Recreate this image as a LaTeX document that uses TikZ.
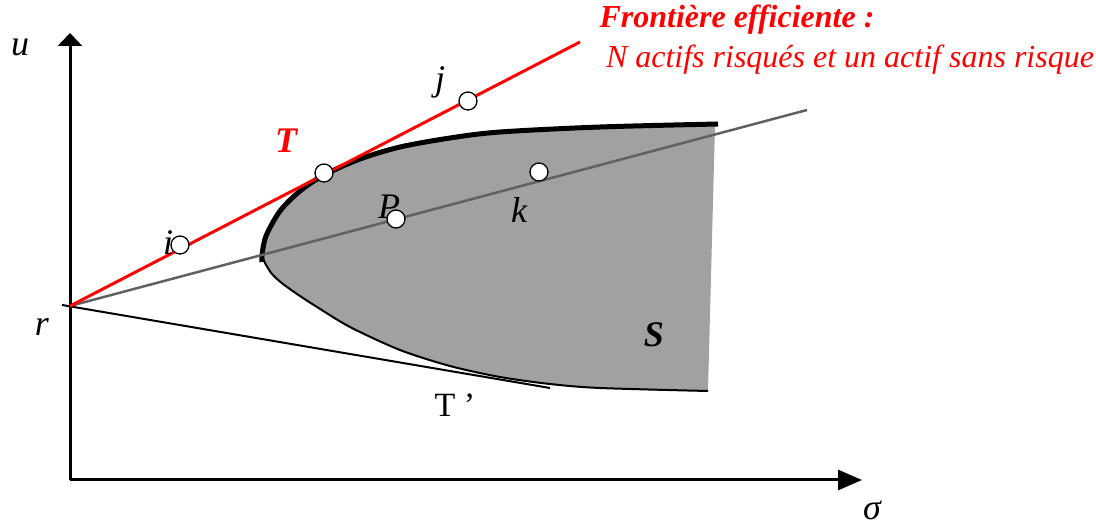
\documentclass[tikz,border=0pt]{standalone}
\usepackage{fontspec}
\setmainfont{Liberation Serif}
\usetikzlibrary{arrows.meta}
\begin{document}
\begin{tikzpicture}[x=1pt,y=-1pt,
  axis/.style={line width=3pt},
  pt/.style={circle,draw=black,fill=white,line width=1.3pt,minimum size=18pt,inner sep=0pt},
  lab/.style={font=\fontsize{36}{40}\selectfont\itshape,inner sep=0pt},
  redline/.style={draw=red,line width=3pt},
  grayline/.style={draw=black!62,line width=2.5pt}]
\useasboundingbox (0,0) rectangle (1096,526);
% coordinates
\coordinate (o) at (70,480);
\coordinate (ytip) at (70,33);
\coordinate (xtip) at (862,480);
\coordinate (r) at (70,306);
\coordinate (rl) at (62,305);
\coordinate (redend) at (580,42);
\coordinate (grayend) at (807,110);
\coordinate (tpend) at (550,388);
% filled region
\fill[black!37] plot[smooth] coordinates {(262,255) (266,236) (280,211) (300,191) (324,175) (360,159) (400,147) (450,138) (500,132) (600,127) (715,125)}
  -- plot[smooth] coordinates {(708,391) (600,388) (550,384) (500,377) (450,366) (400,350) (350,327) (317,307) (300,296) (283,284) (272,274) (265,263) (262,255)} -- cycle;
% lower branch
\draw[line width=2pt] plot[smooth] coordinates {(262,255) (265,263) (272,274) (283,284) (300,296) (317,307) (350,327) (400,350) (450,366) (500,377) (550,384) (600,388) (708,391)};
% upper thick branch
\draw[line width=5pt] plot[smooth] coordinates {(262,262) (262,255) (266,236) (280,211) (300,191) (324,175) (360,159) (400,147) (450,138) (500,132) (600,127) (718,124)};
% axes
\draw[axis,-{Triangle[length=13pt,width=24pt]}] (o) -- (ytip);
\draw[axis,-{Triangle[length=24pt,width=20pt]}] (o) -- (xtip);
% lines
\draw[line width=2pt] (rl) -- (tpend);
\draw[grayline] (r) -- (grayend);
\draw[redline] (r) -- (redend);
% points
\node[pt] (pi) at (180,245) {};
\node[pt] (pt) at (324,173) {};
\node[pt] (pj) at (468,101) {};
\node[pt] (pp) at (396,219) {};
\node[pt] (pk) at (539,172) {};
% labels
\node[lab] (lu) at (20,47) {u};
\node[lab] (lr2) at (42,327) {r};
\node[lab] (ls) at (872,510) {σ};
\node[lab] (li) at (168,243) {i};
\node[lab] (lj) at (440,82) {j};
\node[lab] (lp) at (389,207) {P};
\node[lab] (lk) at (519,210) {k};
\node[lab,font=\fontsize{36}{40}\selectfont\bfseries\itshape,text=red] (lt) at (286,141) {T};
\node[lab,font=\fontsize{36}{40}\selectfont\bfseries\itshape] (lS) at (654,335) {S};
\node[lab,font=\fontsize{34}{40}\selectfont] (ltp) at (455,405) {T ’};
\node[lab,font=\fontsize{32}{36}\selectfont\bfseries\itshape,text=red] (f1) at (737,20) {Frontière efficiente :};
\node[lab,font=\fontsize{32}{36}\selectfont\itshape,text=red] (f2) at (850,60) {N actifs risqués et un actif sans risque};
\end{tikzpicture}
\end{document}
